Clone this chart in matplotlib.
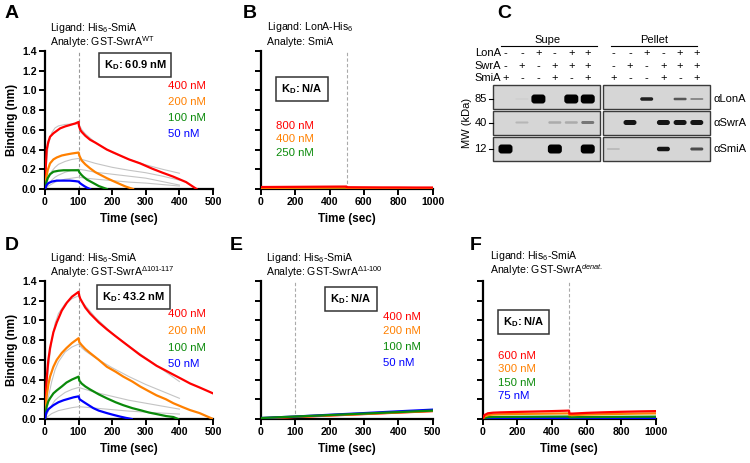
import numpy as np
import matplotlib
matplotlib.use("Agg")
import matplotlib.pyplot as plt
from matplotlib.patches import Rectangle, FancyBboxPatch

plt.rcParams['font.family'] = ['Liberation Sans', 'DejaVu Sans']
plt.rcParams['mathtext.fontset'] = 'custom'
plt.rcParams['mathtext.rm'] = 'Liberation Sans'
plt.rcParams['mathtext.it'] = 'Liberation Sans:italic'
plt.rcParams['mathtext.bf'] = 'Liberation Sans:bold'

W, H = 750, 463
RED, ORANGE, GREEN, BLUE = '#ff0000', '#ff8000', '#0a8a0a', '#0000ff'
GREY = '#c4c4c4'

# ---------------- data ----------------
# Panel A : His6-SmiA vs GST-SwrA WT
A_red_t = [0, 2, 5, 10, 15, 25, 35, 45, 60, 75, 90, 100, 101, 105, 109, 120, 134, 150, 184, 220, 250, 283, 320, 350, 382, 420, 451]
A_red = [0, 0.2, 0.40, 0.48, 0.53, 0.565, 0.59, 0.615, 0.635, 0.65, 0.665, 0.68, 0.64, 0.60, 0.58, 0.54, 0.50, 0.47, 0.40, 0.345, 0.30, 0.26, 0.205, 0.165, 0.125, 0.07, 0.0]
A_orange_t = [0, 3, 8, 15, 25, 35, 50, 64, 80, 100, 102, 109, 120, 134, 150, 184, 200, 223, 240, 262]
A_orange = [0, 0.1, 0.19, 0.26, 0.30, 0.32, 0.34, 0.35, 0.36, 0.37, 0.34, 0.29, 0.25, 0.21, 0.17, 0.11, 0.085, 0.05, 0.025, 0.0]
A_green_t = [0, 3, 8, 15, 25, 40, 55, 70, 85, 100, 102, 108, 114, 125, 144, 160, 184]
A_green = [0, 0.06, 0.11, 0.15, 0.175, 0.185, 0.19, 0.19, 0.19, 0.19, 0.17, 0.145, 0.125, 0.095, 0.06, 0.03, 0.0]
A_blue_t = [0, 5, 10, 20, 35, 55, 74, 90, 100, 104, 110, 119, 126, 134]
A_blue = [0, 0.04, 0.06, 0.075, 0.085, 0.085, 0.085, 0.08, 0.075, 0.06, 0.045, 0.025, 0.012, 0.0]

fit_t = [0, 5, 10, 20, 30, 40, 60, 80, 100, 110, 120, 150, 200, 250, 300, 350, 400]
A_fit400 = [0, 0.3, 0.45, 0.57, 0.62, 0.64, 0.655, 0.66, 0.66, 0.6, 0.56, 0.47, 0.37, 0.30, 0.245, 0.20, 0.16]
A_fit200 = [0, 0.06, 0.11, 0.18, 0.22, 0.25, 0.28, 0.30, 0.31, 0.30, 0.29, 0.26, 0.22, 0.19, 0.165, 0.13, 0.09]
A_fit100 = [0, 0.03, 0.05, 0.09, 0.12, 0.14, 0.17, 0.19, 0.20, 0.195, 0.19, 0.17, 0.15, 0.13, 0.11, 0.075, 0.04]
A_fit50 = [0, 0.015, 0.03, 0.05, 0.07, 0.08, 0.10, 0.11, 0.12, 0.115, 0.11, 0.10, 0.085, 0.07, 0.06, 0.045, 0.03]

# Panel D : His6-SmiA vs GST-SwrA delta101-117
D_red_t = [0, 3, 6, 10, 15, 25, 35, 50, 65, 80, 100, 102, 105, 120, 134, 160, 184, 210, 233, 260, 283, 310, 332, 360, 382, 410, 432, 460, 500]
D_red = [0, 0.3, 0.45, 0.6, 0.72, 0.88, 0.98, 1.1, 1.18, 1.24, 1.29, 1.25, 1.22, 1.13, 1.07, 0.98, 0.91, 0.84, 0.78, 0.71, 0.65, 0.59, 0.54, 0.49, 0.45, 0.40, 0.36, 0.32, 0.26]
D_orange_t = [0, 2, 5, 10, 15, 25, 35, 50, 64, 80, 100, 102, 109, 120, 134, 160, 184, 210, 233, 260, 283, 310, 332, 360, 382, 410, 432, 460, 500]
D_orange = [0, 0.1, 0.23, 0.35, 0.43, 0.53, 0.60, 0.67, 0.72, 0.77, 0.82, 0.78, 0.75, 0.71, 0.67, 0.60, 0.53, 0.48, 0.43, 0.38, 0.33, 0.28, 0.24, 0.20, 0.16, 0.12, 0.09, 0.06, 0.0]
D_green_t = [0, 2, 5, 10, 15, 25, 35, 50, 64, 80, 100, 102, 109, 120, 134, 160, 184, 210, 233, 260, 283, 310, 332, 360, 382, 396]
D_green = [0, 0.06, 0.125, 0.18, 0.21, 0.26, 0.29, 0.33, 0.37, 0.40, 0.43, 0.39, 0.36, 0.33, 0.30, 0.25, 0.21, 0.17, 0.14, 0.11, 0.09, 0.065, 0.05, 0.03, 0.02, 0.0]
D_blue_t = [0, 3, 5, 10, 25, 40, 55, 70, 85, 100, 103, 114, 130, 144, 160, 184, 200, 223, 240, 258]
D_blue = [0, 0.05, 0.07, 0.1, 0.14, 0.17, 0.19, 0.205, 0.22, 0.23, 0.2, 0.175, 0.14, 0.11, 0.085, 0.06, 0.045, 0.025, 0.012, 0.0]

D_fit400 = [0, 0.3, 0.52, 0.8, 0.97, 1.07, 1.17, 1.22, 1.25, 1.19, 1.15, 1.03, 0.87, 0.74, 0.62, 0.50, 0.38]
D_fit200 = [0, 0.12, 0.22, 0.38, 0.5, 0.58, 0.68, 0.73, 0.76, 0.72, 0.69, 0.62, 0.52, 0.43, 0.35, 0.28, 0.21]
D_fit100 = [0, 0.04, 0.08, 0.14, 0.19, 0.22, 0.27, 0.30, 0.32, 0.31, 0.30, 0.27, 0.23, 0.19, 0.16, 0.13, 0.10]
D_fit50 = [0, 0.015, 0.03, 0.055, 0.07, 0.085, 0.10, 0.115, 0.125, 0.122, 0.12, 0.11, 0.095, 0.08, 0.07, 0.06, 0.05]

# Panel B : LonA-His6 vs SmiA
B_t = [0, 100, 200, 300, 400, 499, 501, 600, 700, 800, 900, 1000]
B_red = [0.02, 0.021, 0.022, 0.023, 0.024, 0.025, 0.018, 0.017, 0.016, 0.016, 0.015, 0.015]
B_orange = [0.01, 0.011, 0.012, 0.012, 0.013, 0.014, 0.010, 0.010, 0.010, 0.009, 0.009, 0.009]
B_green = [0.004, 0.005, 0.005, 0.006, 0.006, 0.006, 0.005, 0.005, 0.005, 0.005, 0.004, 0.004]

# Panel E : His6-SmiA vs GST-SwrA delta1-100
E_t = [0, 100, 200, 300, 400, 500]
E_red = [0.005, 0.02, 0.035, 0.05, 0.065, 0.08]
E_orange = [0.008, 0.022, 0.037, 0.052, 0.067, 0.082]
E_blue = [0.01, 0.025, 0.043, 0.06, 0.078, 0.095]
E_green = [0.01, 0.025, 0.04, 0.055, 0.07, 0.085]

# Panel F : His6-SmiA vs denatured GST-SwrA
F_t = [0, 10, 30, 60, 100, 200, 300, 400, 499, 501, 520, 600, 700, 800, 900, 1000]
F_red = [0, 0.04, 0.058, 0.064, 0.067, 0.072, 0.076, 0.08, 0.085, 0.055, 0.055, 0.062, 0.068, 0.073, 0.077, 0.08]
F_orange = [0, 0.025, 0.04, 0.045, 0.048, 0.051, 0.053, 0.055, 0.057, 0.04, 0.04, 0.045, 0.049, 0.052, 0.055, 0.057]
F_green = [0, 0.01, 0.018, 0.02, 0.021, 0.022, 0.023, 0.024, 0.025, 0.018, 0.018, 0.02, 0.021, 0.022, 0.023, 0.024]
F_blue = [0, 0.004, 0.006, 0.007, 0.008, 0.009, 0.009, 0.01, 0.01, 0.006, 0.006, 0.007, 0.008, 0.008, 0.009, 0.01]

# Panel C : pull-down blot
lonA = [0, 0, 1, 0, 1, 1]
swrA = [0, 1, 0, 1, 1, 1]
smiA = [1, 0, 0, 1, 0, 1]
blot_rows = ['\u03b1LonA', '\u03b1SwrA', '\u03b1SmiA']
mw_labels = ['85', '40', '12']
# band darkness (0..1) and thickness (px) per lane: supe then pellet
supe_dark = [[0, 0.03, 1.0, 0, 1.0, 1.0],
             [0, 0.15, 0, 0.2, 0.2, 0.45],
             [1.0, 0, 0, 1.0, 0, 1.0]]
supe_thick = [[0, 2, 9, 0, 9, 9],
              [0, 2, 0, 2.5, 2.5, 3],
              [9, 0, 0, 9, 0, 9]]
pell_dark = [[0, 0, 0.85, 0, 0.6, 0.35],
             [0, 0.9, 0, 0.9, 0.9, 0.9],
             [0.12, 0, 0, 0.9, 0, 0.65]]
pell_thick = [[0, 0, 3.5, 0, 2.5, 2],
              [0, 5, 0, 5, 5, 5],
              [2, 0, 0, 4.5, 0, 3]]


def px_axes(x0, y0, x1, y1):
    return fig.add_axes([x0 / W, 1 - y1 / H, (x1 - x0) / W, (y1 - y0) / H])


def ftext(x, y, s, **kw):
    fig.text(x / W, 1 - y / H, s, **kw)


def style(ax, xmax, xstep, ylabels=True, ylab=False):
    ax.set_xlim(0, xmax)
    ax.set_ylim(0, 1.4)
    ax.set_xticks(np.arange(0, xmax + 1, xstep))
    ax.set_yticks(np.arange(0, 1.41, 0.2))
    if ylabels:
        ax.set_yticklabels(['%.1f' % v for v in np.arange(0, 1.41, 0.2)])
    else:
        ax.set_yticklabels([])
    for s in ['top', 'right']:
        ax.spines[s].set_visible(False)
    for s in ['left', 'bottom']:
        ax.spines[s].set_linewidth(1.6)
    ax.tick_params(width=1.4, length=4, labelsize=7.6, pad=2)
    for lab in ax.get_xticklabels() + ax.get_yticklabels():
        lab.set_fontweight('bold')
    ax.set_xlabel('Time (sec)', fontsize=8.4, fontweight='bold', labelpad=4)
    if ylab:
        ax.set_ylabel('Binding (nm)', fontsize=8.4, fontweight='bold', labelpad=3)
    ax.patch.set_alpha(0)


def kd_box(x, y, s):
    ftext(x, y, s, fontsize=8, fontweight='bold', ha='center', va='center',
          bbox=dict(boxstyle='square,pad=0.45', fc='white', ec='#333333', lw=1.1))


def header(x, y1, y2, s1, s2):
    # y1/y2 are baselines in pixels from the top
    ftext(x, y1, s1, fontsize=7.6, va='baseline')
    ftext(x, y2, s2, fontsize=7.6, va='baseline')


fig = plt.figure(figsize=(7.5, 4.63), dpi=100)

# ---- A ----
ax = px_axes(45, 51, 213, 189)
for f in [A_fit400, A_fit200, A_fit100, A_fit50]:
    ax.plot(fit_t, f, color=GREY, lw=0.8, zorder=2)
ax.axvline(100, color='#999999', lw=0.8, ls=(0, (3, 2)), zorder=1)
ax.plot(A_red_t, A_red, color=RED, lw=1.6, zorder=3)
ax.plot(A_orange_t, A_orange, color=ORANGE, lw=1.6, zorder=3)
ax.plot(A_green_t, A_green, color=GREEN, lw=1.6, zorder=3)
ax.plot(A_blue_t, A_blue, color=BLUE, lw=1.6, zorder=3)
style(ax, 500, 100, ylab=True)
ftext(5, 13, 'A', fontsize=14, fontweight='bold', va='center')
header(50.5, 31, 46, r'Ligand: His$_6$-SmiA', r'Analyte: GST-SwrA$^{\mathrm{WT}}$')
kd_box(135, 65, r'K$_\mathbf{D}$: 60.9 nM')
for yy, s, c in zip([86, 102, 118, 134], ['400 nM', '200 nM', '100 nM', '50 nM'], [RED, ORANGE, GREEN, BLUE]):
    ftext(168, yy, s, fontsize=8.2, color=c, va='center')

# ---- B ----
ax = px_axes(260.7, 51, 432.7, 189)
ax.axvline(500, color='#aaaaaa', lw=0.8, ls=(0, (3, 2)), zorder=1)
ax.plot(B_t, B_green, color=GREEN, lw=1.6, zorder=3)
ax.plot(B_t, B_orange, color=ORANGE, lw=1.6, zorder=3)
ax.plot(B_t, B_red, color=RED, lw=1.6, zorder=3)
style(ax, 1000, 200, ylabels=False)
ftext(243, 13, 'B', fontsize=14, fontweight='bold', va='center')
header(267, 30, 45, r'Ligand: LonA-His$_6$', 'Analyte: SmiA')
kd_box(301.7, 89, r'K$_\mathbf{D}$: N/A')
for yy, s, c in zip([126, 139.5, 153], ['800 nM', '400 nM', '250 nM'], [RED, ORANGE, GREEN]):
    ftext(276, yy, s, fontsize=8.2, color=c, va='center')

# ---- D ----
ax = px_axes(45, 281, 213, 419)
for f in [D_fit400, D_fit200, D_fit100, D_fit50]:
    ax.plot(fit_t, f, color=GREY, lw=0.8, zorder=2)
ax.axvline(100, color='#999999', lw=0.8, ls=(0, (3, 2)), zorder=1)
ax.plot(D_red_t, D_red, color=RED, lw=1.6, zorder=3)
ax.plot(D_orange_t, D_orange, color=ORANGE, lw=1.6, zorder=3)
ax.plot(D_green_t, D_green, color=GREEN, lw=1.6, zorder=3)
ax.plot(D_blue_t, D_blue, color=BLUE, lw=1.6, zorder=3)
style(ax, 500, 100, ylab=True)
ftext(5, 245, 'D', fontsize=14, fontweight='bold', va='center')
header(50.5, 261, 276, r'Ligand: His$_6$-SmiA', r'Analyte: GST-SwrA$^{\mathit{\Delta 101\text{-}117}}$')
kd_box(133.5, 297, r'K$_\mathbf{D}$: 43.2 nM')
for yy, s, c in zip([314, 331, 348, 364], ['400 nM', '200 nM', '100 nM', '50 nM'], [RED, ORANGE, GREEN, BLUE]):
    ftext(168, yy, s, fontsize=8.2, color=c, va='center')

# ---- E ----
ax = px_axes(260.7, 281, 432.7, 419)
ax.axvline(100, color='#aaaaaa', lw=0.8, ls=(0, (3, 2)), zorder=1)
ax.plot(E_t, E_red, color=RED, lw=1.6, zorder=3)
ax.plot(E_t, E_orange, color=ORANGE, lw=1.6, zorder=3)
ax.plot(E_t, E_blue, color=BLUE, lw=1.6, zorder=3)
ax.plot(E_t, E_green, color=GREEN, lw=1.6, zorder=3)
style(ax, 500, 100, ylabels=False)
ftext(230, 245, 'E', fontsize=14, fontweight='bold', va='center')
header(266.5, 261, 276, r'Ligand: His$_6$-SmiA', r'Analyte: GST-SwrA$^{\mathit{\Delta 1\text{-}100}}$')
kd_box(351, 299, r'K$_\mathbf{D}$: N/A')
for yy, s, c in zip([317, 331.5, 347, 363], ['400 nM', '200 nM', '100 nM', '50 nM'], [RED, ORANGE, GREEN, BLUE]):
    ftext(383, yy, s, fontsize=8.2, color=c, va='center')

# ---- F ----
ax = px_axes(482.7, 281, 655.7, 419)
ax.axvline(500, color='#aaaaaa', lw=0.8, ls=(0, (3, 2)), zorder=1)
ax.plot(F_t, F_blue, color=BLUE, lw=1.6, zorder=3)
ax.plot(F_t, F_green, color=GREEN, lw=1.6, zorder=3)
ax.plot(F_t, F_orange, color=ORANGE, lw=1.6, zorder=3)
ax.plot(F_t, F_red, color=RED, lw=1.6, zorder=3)
style(ax, 1000, 200, ylabels=False)
ftext(470, 245, 'F', fontsize=14, fontweight='bold', va='center')
header(490, 259, 274, r'Ligand: His$_6$-SmiA', r'Analyte: GST-SwrA$^{\mathit{denat.}}$')
kd_box(523.5, 322, r'K$_\mathbf{D}$: N/A')
for yy, s, c in zip([356, 369, 383, 396], ['600 nM', '300 nM', '150 nM', '75 nM'], [RED, ORANGE, GREEN, BLUE]):
    ftext(498, yy, s, fontsize=8.2, color=c, va='center')

# ---- C : blot ----
bx = fig.add_axes([455 / W, 1 - 175 / H, 295 / W, 175 / H])
bx.set_xlim(455, 750)
bx.set_ylim(175, 0)
bx.axis('off')
ftext(497, 13, 'C', fontsize=14, fontweight='bold', va='center')

supe_x = 505.5 + 16.45 * np.arange(6)
pell_x = 613.3 + 16.7 * np.arange(6)
box_x = [(493.3, 600), (602.7, 710)]
row_y = [(85, 109), (111, 134.5), (136.5, 161)]
row_c = [99, 122.5, 149]

bx.text(548, 40, 'Supe', ha='center', va='center', fontsize=8)
bx.text(654, 40, 'Pellet', ha='center', va='center', fontsize=8)
bx.plot([500.7, 597], [46, 46], color='black', lw=0.8)
bx.plot([610.7, 697], [46, 46], color='black', lw=0.8)
for yy, name, vals in zip([53, 66, 78], ['LonA', 'SwrA', 'SmiA'], [lonA, swrA, smiA]):
    bx.text(501, yy, name, ha='right', va='center', fontsize=8)
    for xs in [supe_x, pell_x]:
        for x, v in zip(xs, vals):
            bx.text(x, yy, '+' if v else '-', ha='center', va='center', fontsize=8)

for (x0, x1), darks, thicks, xs in [(box_x[0], supe_dark, supe_thick, supe_x),
                                     (box_x[1], pell_dark, pell_thick, pell_x)]:
    for r, (y0, y1) in enumerate(row_y):
        bx.add_patch(Rectangle((x0, y0), x1 - x0, y1 - y0, fc='#d6d6d6', ec='#3a3a3a', lw=1.0, zorder=1))
        for x, d, t in zip(xs, darks[r], thicks[r]):
            if d <= 0 or t <= 0:
                continue
            g = 0.84 * (1 - d)
            wband = 14 if t >= 8 else 13
            bx.add_patch(FancyBboxPatch((x - wband / 2, row_c[r] - t / 2), wband, t,
                                        boxstyle='round,pad=0,rounding_size=%.1f' % min(t / 2, 3),
                                        fc=(g, g, g), ec='none', zorder=2))

for yy, lab in zip(row_c, mw_labels):
    bx.plot([488.5, 493.3], [yy, yy], color='black', lw=0.8)
    bx.text(487, yy, lab, ha='right', va='center', fontsize=8)
bx.text(466.5, 123, 'MW (kDa)', ha='center', va='center', rotation=90, fontsize=8)
for yy, lab in zip(row_c, blot_rows):
    bx.text(713, yy, lab, ha='left', va='center', fontsize=8)

fig.savefig('out.png', dpi=100)
